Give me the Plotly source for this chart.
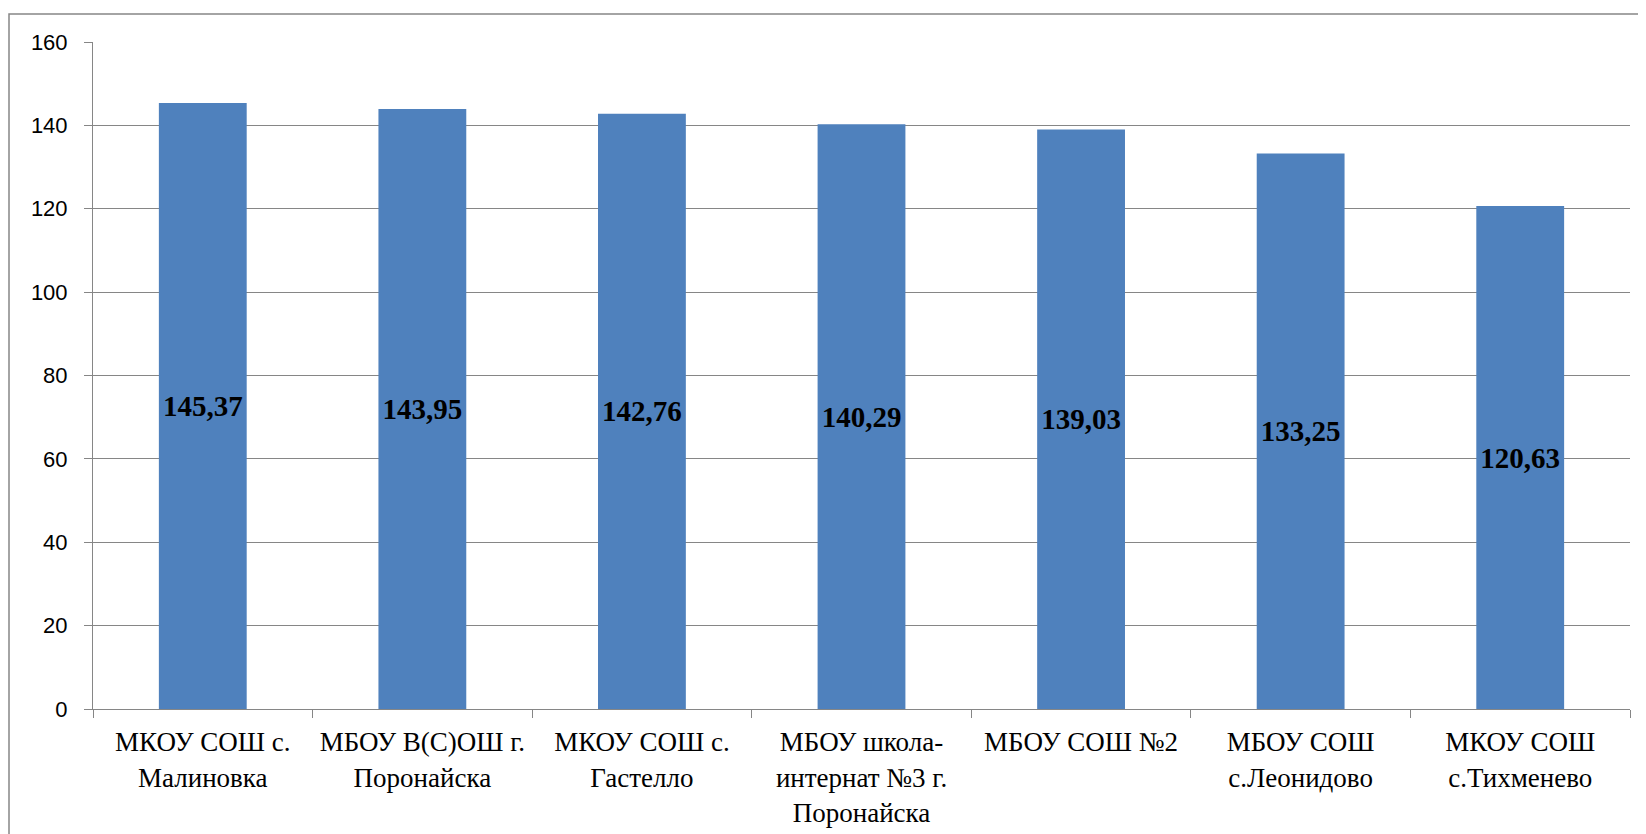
import plotly.graph_objects as go

categories = [
    "МКОУ СОШ с.<br>Малиновка",
    "МБОУ В(С)ОШ г.<br>Поронайска",
    "МКОУ СОШ с.<br>Гастелло",
    "МБОУ школа-<br>интернат №3 г.<br>Поронайска",
    "МБОУ СОШ №2",
    "МБОУ СОШ<br>с.Леонидово",
    "МКОУ СОШ<br>с.Тихменево",
]
values = [145.37, 143.95, 142.76, 140.29, 139.03, 133.25, 120.63]
y_ticks = [0, 20, 40, 60, 80, 100, 120, 140, 160]

W, H = 1646, 834
ML, MR, MT, MB = 85, 24, 34, 133
pw = W - ML - MR
ph = H - MT - MB

fig = go.Figure(
    go.Bar(
        x=categories,
        y=values,
        marker=dict(color="#4F81BD", line=dict(width=0)),
        text=[f"{v:.2f}".replace(".", ",") for v in values],
        textposition="inside",
        insidetextanchor="middle",
        constraintext="none",
        textangle=0,
        textfont=dict(family="Liberation Serif", size=29, color="black", weight="bold"),
        hoverinfo="skip",
    )
)

grid = "#868686"
fig.update_layout(
    width=W,
    height=H,
    margin=dict(l=ML, r=MR, t=MT, b=MB, autoexpand=False),
    paper_bgcolor="white",
    plot_bgcolor="white",
    bargap=0.6,
    showlegend=False,
    xaxis=dict(
        showline=True,
        linecolor=grid,
        linewidth=1,
        ticks="outside",
        tickson="boundaries",
        ticklen=8,
        tickcolor=grid,
        tickfont=dict(family="Liberation Serif", size=27, color="black"),
        showgrid=False,
        ticklabelstandoff=9,
    ),
    yaxis=dict(
        range=[0, 160],
        tickvals=y_ticks,
        showline=True,
        linecolor=grid,
        linewidth=1,
        ticks="outside",
        ticklen=8,
        tickcolor=grid,
        showgrid=True,
        gridcolor=grid,
        gridwidth=1,
        zeroline=False,
        tickfont=dict(family="Liberation Sans", size=22, color="black"),
        ticklabelstandoff=12,
    ),
    shapes=[
        dict(
            type="rect",
            xref="paper",
            yref="paper",
            x0=(1 - ML) / pw,
            x1=(W + 20 - ML) / pw,
            y0=-(MB + 20) / ph,
            y1=1 + (MT - 6) / ph,
            line=dict(color=grid, width=1.5),
            fillcolor="rgba(0,0,0,0)",
            layer="below",
        )
    ],
)

fig.write_html("out.html")
